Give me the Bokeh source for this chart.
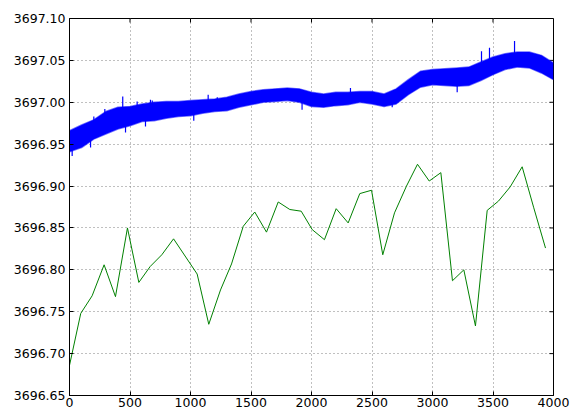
from bokeh.plotting import figure
from bokeh.models import Range1d, FixedTicker, PrintfTickFormatter
from bokeh.embed import file_html
from bokeh.resources import INLINE

# Blue noisy series: band envelope read every 100 units
blue_x = [0, 100, 200, 300, 400, 500, 600, 700, 800, 900, 1000, 1100, 1200, 1300,
          1400, 1500, 1600, 1700, 1800, 1900, 2000, 2100, 2200, 2300, 2400, 2500,
          2600, 2700, 2800, 2900, 3000, 3100, 3200, 3300, 3400, 3500, 3600, 3700,
          3800, 3900, 4000]
blue_upper = [3696.966, 3696.973, 3696.979, 3696.989, 3696.994, 3696.995, 3696.998,
              3697.000, 3697.001, 3697.001, 3697.002, 3697.003, 3697.004, 3697.006,
              3697.010, 3697.013, 3697.015, 3697.016, 3697.017, 3697.016, 3697.012,
              3697.010, 3697.012, 3697.012, 3697.013, 3697.013, 3697.010, 3697.016,
              3697.027, 3697.037, 3697.039, 3697.040, 3697.041, 3697.042, 3697.048,
              3697.054, 3697.058, 3697.060, 3697.060, 3697.056, 3697.047]
blue_lower = [3696.941, 3696.946, 3696.956, 3696.962, 3696.968, 3696.972, 3696.977,
              3696.978, 3696.981, 3696.983, 3696.984, 3696.987, 3696.989, 3696.990,
              3696.994, 3696.997, 3697.000, 3697.001, 3697.002, 3697.000, 3696.995,
              3696.994, 3696.996, 3696.997, 3697.000, 3696.998, 3696.995, 3696.998,
              3697.009, 3697.018, 3697.021, 3697.020, 3697.019, 3697.020, 3697.026,
              3697.033, 3697.039, 3697.042, 3697.041, 3697.035, 3697.027]
# Spikes of the blue series (x, base inside band, tip)
spike_x = [22, 174, 201, 292, 440, 463, 559, 628, 669, 684, 835, 1027, 1069, 1146,
           1221, 1922, 2322, 2667, 3204, 3405, 3471, 3678]
spike_base = [3696.955, 3696.962, 3696.968, 3696.976, 3696.985, 3696.975, 3696.985,
              3696.988, 3696.990, 3696.990, 3696.992, 3696.993, 3696.995, 3696.995,
              3696.997, 3697.005, 3697.005, 3697.005, 3697.025, 3697.040, 3697.045,
              3697.050]
spike_tip = [3696.936, 3696.946, 3696.983, 3696.992, 3697.007, 3696.964, 3697.001,
             3696.971, 3697.003, 3697.002, 3696.999, 3696.978, 3697.000, 3697.009,
             3697.006, 3696.991, 3697.017, 3696.994, 3697.012, 3697.061, 3697.065,
             3697.073]

# Green series
green_x = [0, 93, 187, 286, 380, 479, 573, 667, 763, 860, 1055, 1151, 1248, 1339,
           1436, 1531, 1628, 1725, 1821, 1915, 2006, 2107, 2204, 2303, 2399, 2496,
           2589, 2686, 2785, 2876, 2973, 3069, 3165, 3259, 3355, 3452, 3545, 3642,
           3741, 3837, 3934]
green_y = [3696.686, 3696.748, 3696.769, 3696.806, 3696.768, 3696.850, 3696.785,
           3696.804, 3696.818, 3696.837, 3696.795, 3696.735, 3696.776, 3696.807,
           3696.852, 3696.869, 3696.845, 3696.881, 3696.872, 3696.870, 3696.848,
           3696.836, 3696.873, 3696.856, 3696.891, 3696.895, 3696.818, 3696.868,
           3696.900, 3696.926, 3696.906, 3696.916, 3696.787, 3696.800, 3696.733,
           3696.871, 3696.882, 3696.899, 3696.923, 3696.874, 3696.826]

x_ticks = [0, 500, 1000, 1500, 2000, 2500, 3000, 3500, 4000]
y_ticks = [3696.65, 3696.70, 3696.75, 3696.80, 3696.85, 3696.90, 3696.95,
           3697.00, 3697.05, 3697.10]

FONT = "DejaVu Sans"
FS = "12.5px"
X0, X1 = 0, 4000
Y0, Y1 = 3696.65, 3697.10
FRAME_W, FRAME_H = 484, 377
TICK_PX = 4

p = figure(width=570, height=412, output_backend="svg", toolbar_location=None,
           x_range=Range1d(X0, X1), y_range=Range1d(Y0, Y1),
           min_border_left=69, min_border_top=18, min_border_right=17,
           min_border_bottom=17)
p.background_fill_color = "white"
p.border_fill_color = "white"
p.outline_line_color = "black"
p.outline_line_width = 1

for ax in (p.xaxis[0], p.yaxis[0]):
    ax.major_label_text_font = FONT
    ax.major_label_text_font_size = FS
    ax.major_label_text_color = "black"
    ax.major_tick_in = TICK_PX
    ax.major_tick_out = 0
    ax.minor_tick_in = 0
    ax.minor_tick_out = 0
    ax.axis_line_color = "black"
p.xaxis[0].ticker = FixedTicker(ticks=x_ticks)
p.yaxis[0].ticker = FixedTicker(ticks=y_ticks)
p.yaxis[0].formatter = PrintfTickFormatter(format="%.2f")
p.xaxis[0].major_label_standoff = 2
p.yaxis[0].major_label_standoff = 4

p.xgrid.ticker = FixedTicker(ticks=x_ticks)
p.ygrid.ticker = FixedTicker(ticks=y_ticks)
p.grid.grid_line_color = "#808080"
p.grid.grid_line_dash = "1 3"
p.grid.grid_line_width = 1

# inward ticks on the right and top spines, derived from the tick lists
dx = (X1 - X0) * TICK_PX / FRAME_W
dy = (Y1 - Y0) * TICK_PX / FRAME_H
p.segment(x0=[X1] * len(y_ticks), y0=y_ticks, x1=[X1 - dx] * len(y_ticks), y1=y_ticks,
          line_color="black", line_width=1)
p.segment(x0=x_ticks, y0=[Y1] * len(x_ticks), x1=x_ticks, y1=[Y1 - dy] * len(x_ticks),
          line_color="black", line_width=1)

# blue band
p.varea(x=blue_x, y1=blue_lower, y2=blue_upper, fill_color="#0000ff")
p.line(blue_x, blue_upper, line_color="#0000ff", line_width=1.5, line_alpha=0.55)
p.line(blue_x, blue_lower, line_color="#0000ff", line_width=1.5, line_alpha=0.55)
p.segment(x0=spike_x, y0=spike_base, x1=spike_x, y1=spike_tip,
          line_color="#0000ff", line_width=1.2)

# green line
p.line(green_x, green_y, line_color="#008000", line_width=1)

open("out.html", "w").write(file_html(p, INLINE))
